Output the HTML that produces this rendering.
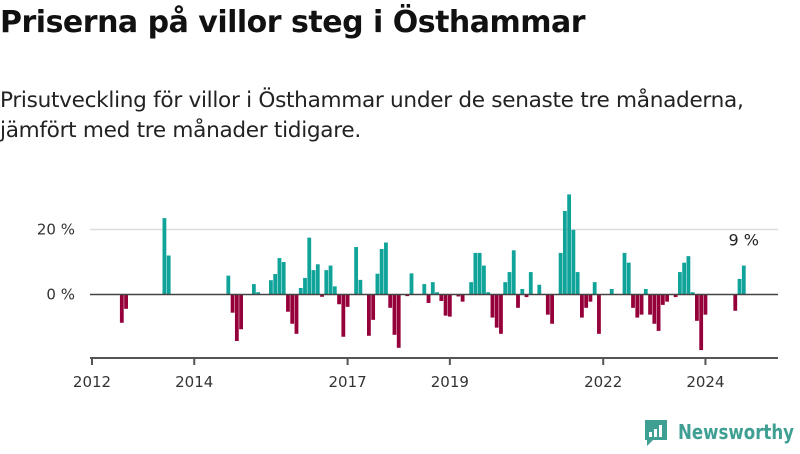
<!DOCTYPE html>
<html><head><meta charset="utf-8"><style>
body{margin:0;background:#fff;width:800px;height:450px;overflow:hidden;font-family:"Liberation Sans","DejaVu Sans",sans-serif;}
h1{position:absolute;left:0;top:5px;margin:0;font-size:30px;font-weight:bold;color:#111;font-family:"DejaVu Sans","Liberation Sans",sans-serif;letter-spacing:-0.5px}
.sub{position:absolute;left:0;top:86px;margin:0;font-size:21.6px;line-height:30px;color:#222;font-family:"DejaVu Sans","Liberation Sans",sans-serif;letter-spacing:-0.3px}
svg{position:absolute;left:0;top:0}
</style></head><body>
<h1>Priserna på villor steg i Östhammar</h1>
<p class="sub">Prisutveckling för villor i Östhammar under de senaste tre månaderna,<br>jämfört med tre månader tidigare.</p>
<svg id="chart" width="800" height="450"></svg>
<script>
const months=[7,8,17,18,32,33,34,35,38,39,42,43,44,45,46,47,48,49,50,51,52,53,54,55,56,57,58,59,60,62,63,65,66,67,68,69,70,71,72,74,75,78,79,80,81,82,83,84,86,87,89,90,91,92,93,94,95,96,97,98,99,100,101,102,103,105,107,108,110,111,112,113,114,115,116,117,118,119,122,125,126,127,128,129,130,131,132,133,134,135,137,138,139,140,141,142,143,144,151,152,153];
const values=[-8.7,-4.4,23.5,12,5.8,-5.6,-14.3,-10.7,3.2,0.7,4.4,6.3,11.2,10,-5.3,-9,-12.1,2,5.1,17.5,7.5,9.3,-0.7,7.5,8.9,2.5,-3,-13,-3.8,14.6,4.5,-12.7,-7.8,6.4,14,16,-4.1,-12.4,-16.4,-0.5,6.5,3.2,-2.6,3.8,0.7,-2,-6.5,-6.8,-0.6,-2.2,3.8,12.8,12.8,8.9,0.7,-7.1,-10.2,-12.1,3.8,6.9,13.6,-4.1,1.7,-0.8,6.9,3,-6.2,-9,12.8,25.7,30.8,19.9,6.9,-7.1,-4.1,-2.2,3.8,-12.1,1.7,12.8,9.8,-4.1,-7.1,-6.2,1.7,-6.2,-9,-11.2,-3.2,-2.2,-0.8,6.9,9.8,11.8,0.7,-8.1,-17.1,-6.2,-5,4.8,8.9];
const yTicks=[0,20];
const yTickLabels=["0 %","20 %"];
const xTickYears=[2012,2014,2017,2019,2022,2024];
const lastLabel="9 %";
const NS="http://www.w3.org/2000/svg";
const svg=document.getElementById('chart');
function x(m){return 92+m*4.26;}
function xYear(yr){return x((yr-2012)*12);}
function y(v){return 294.5-v*3.25;}
function el(t,a){const e=document.createElementNS(NS,t);for(const k in a)e.setAttribute(k,a[k]);svg.appendChild(e);return e;}
yTicks.forEach((t,i)=>{
  if(t!==0){const g=el('line',{x1:90,x2:778,y1:y(t),y2:y(t),stroke:'#ddd','stroke-width':1.5});
  
  }
  const tx=el('text',{x:75,y:y(t)+5,'text-anchor':'end','font-size':15,fill:'#333','font-family':'DejaVu Sans, Liberation Sans, sans-serif'});
  tx.textContent=yTickLabels[i];
  
  
});
months.forEach((m,i)=>{
  const v=values[i];
  const r=el('rect',{x:x(m)-1.9,width:3.8,y:Math.min(y(v),y(0)),height:Math.abs(y(v)-y(0)),fill:v>=0?'#0fa39a':'#95003a'});
  
  
});
const zl=el('line',{x1:90,x2:778,y1:y(0),y2:y(0),stroke:'#444','stroke-width':1.5});


const ax=el('line',{x1:90,x2:778,y1:358,y2:358,stroke:'#555','stroke-width':2});


xTickYears.forEach(yr=>{
  const t=el('line',{x1:xYear(yr),x2:xYear(yr),y1:358,y2:365,stroke:'#555','stroke-width':2});
  
  
  const tx=el('text',{x:xYear(yr),y:387,'text-anchor':'middle','font-size':15,fill:'#333','font-family':'DejaVu Sans, Liberation Sans, sans-serif'});
  tx.textContent=yr;
  
  
});
const lm=months[months.length-1];
const ll=el('text',{x:x(lm),y:y(values[values.length-1])-20,'text-anchor':'middle','font-size':16,fill:'#222','font-family':'DejaVu Sans, Liberation Sans, sans-serif'});
ll.textContent=lastLabel;


</script>
<svg width="160" height="40" style="left:640px;top:414px">
<path d="M5 6 h22 v20 h-14 l-6 6 v-6 h-2 z" fill="#3f9f93"/>
<rect x="9" y="18" width="3" height="5" fill="#fff"/><rect x="14" y="15" width="3" height="8" fill="#fff"/><rect x="19" y="11" width="3" height="12" fill="#fff"/>
<text x="38" y="25" font-size="20" font-weight="bold" fill="#3f9f93" textLength="116" lengthAdjust="spacingAndGlyphs" font-family="DejaVu Sans, Liberation Sans, sans-serif">Newsworthy</text>
</svg>
</body></html>
